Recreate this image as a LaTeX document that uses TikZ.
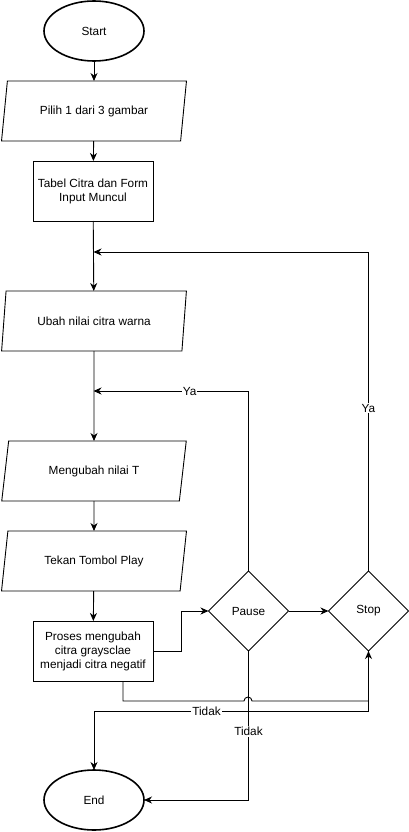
\documentclass[tikz,border=0pt]{standalone}
\usepackage{fontspec}
\setmainfont{Liberation Sans}
\usetikzlibrary{shapes.geometric,arrows.meta}
\begin{document}
\begin{tikzpicture}[x=1pt,y=-1pt,line width=0.9pt,
	font=\fontsize{11.8}{14}\selectfont,
	term/.style={draw,ellipse,line width=1.6pt,minimum width=100pt,minimum height=60pt,inner sep=0pt,outer sep=0pt},
	io/.style={draw,trapezium,trapezium left angle=71.57,trapezium right angle=108.43,trapezium stretches=true,minimum width=185pt,minimum height=60pt,inner sep=0pt,outer sep=0pt},
	proc/.style={draw,rectangle,minimum width=120pt,minimum height=60pt,inner sep=0pt,outer sep=0pt,align=center},
	dec/.style={draw,diamond,aspect=1,minimum width=80pt,minimum height=80pt,inner sep=0pt,outer sep=0pt},
	flow/.style={-{Stealth[length=8pt,width=7pt,inset=2.5pt]}},
	lbl/.style={fill=white,inner sep=1pt}]
	\useasboundingbox (0,0) rectangle (409,832);
	% flowchart nodes
	\node[term] (start) at (94,31) {Start};
	\node[io] (pilih) at (94,111) {Pilih 1 dari 3 gambar};
	\node[proc] (tabel) at (93,191) {Tabel Citra dan Form\\Input Muncul};
	\node[io] (ubah) at (94,321) {Ubah nilai citra warna};
	\node[io] (ubaht) at (94,471) {Mengubah nilai T};
	\node[io] (tekan) at (94,561) {Tekan Tombol Play};
	\node[proc] (proses) at (93,651) {Proses mengubah\\citra graysclae\\menjadi citra negatif};
	\node[dec] (pause) at (248.5,611) {Pause};
	\node[dec] (stop) at (368.5,611) {Stop};
	\node[term] (end) at (94,800) {End};
	\coordinate (j1) at (93.5,252);
	\coordinate (j2) at (93.5,391);
	% main flow
	\draw[flow] (start) -- (pilih);
	\draw[flow] (pilih) -- (tabel);
	\draw[flow] (tabel) -- (ubah);
	\draw[flow] (ubah) -- (ubaht);
	\draw[flow] (ubaht) -- (tekan);
	\draw[flow] (tekan) -- (proses);
	\draw[flow] (proses.east) -- (181,651) -- (181,611) -- (pause.west);
	\draw[flow] (pause.east) -- (stop.west);
	% loops back
	\draw[flow] (pause.north) |- node[lbl,pos=0.69] {Ya} (j2);
	\draw[flow] (stop.north) |- node[lbl,pos=0.255] {Ya} (j1);
	\draw[flow] (proses.south -| 123,0) -- (123,701) -- (244,701) arc[start angle=180,end angle=0,radius=4pt] -- (368.5,701) -- (stop.south);
	\draw[flow] (stop.south) -- (368.5,711) -- node[lbl,pos=0.59] {Tidak} (94,711) -- (end.north);
	\draw[flow] (pause.south) |- node[lbl,pos=0.27] {Tidak} (end.east);
\end{tikzpicture}
\end{document}
